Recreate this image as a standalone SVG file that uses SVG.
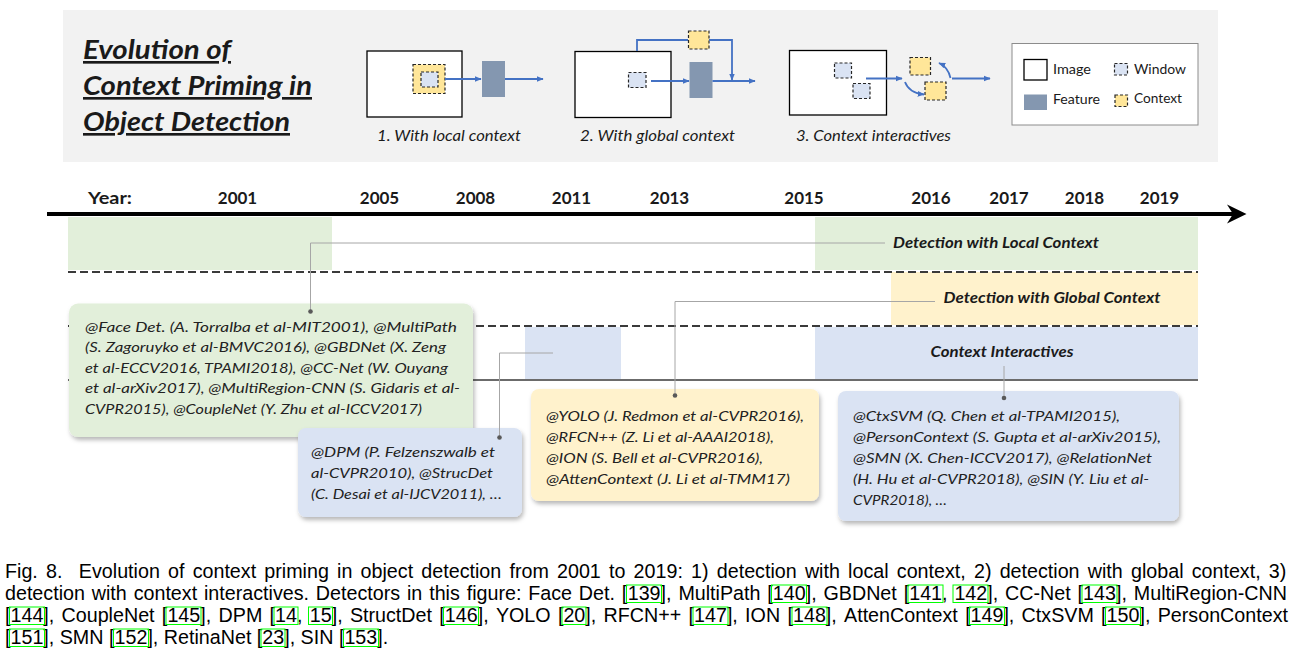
<svg xmlns="http://www.w3.org/2000/svg" width="1295" height="658" viewBox="0 0 1295 658">
<defs>
<style>
.t{font-family:Lato,"Open Sans","Liberation Sans",sans-serif;fill:#1a1a1a}
.title{font-size:26.5px;font-weight:700;font-style:italic;text-decoration:underline}
.cap{font-size:15px;font-style:italic}
.leg{font-size:14px}
.yr{font-size:17px;font-weight:700}
.band{font-size:15px;font-weight:700;font-style:italic}
.bx{font-size:14.3px;font-style:italic;fill:#222}
.fc{font-family:"Liberation Sans",Arial,Helvetica,sans-serif;font-size:19.7px;fill:#000;font-kerning:none;font-variant-ligatures:none}
.w2{word-spacing:1.39px}
.w3{word-spacing:1.82px}
.img{fill:#fff;stroke:#000;stroke-width:1.3}
.win{fill:#dae3f3;stroke:#262626;stroke-width:1.2;stroke-dasharray:3 2}
.ctx{fill:#ffe699;stroke:#262626;stroke-width:1.2;stroke-dasharray:3 2}
.feat{fill:#8497b0}
.arr{fill:none;stroke:#4472c4;stroke-width:1.8;marker-end:url(#ah)}
.ln{fill:none;stroke:#4472c4;stroke-width:1.8}
.dash{stroke:#3a3a3a;stroke-width:2;stroke-dasharray:8 4}
.conn{fill:none;stroke:#a6a6a6;stroke-width:1}
.dot{fill:#595959}
.lk{fill:none;stroke:#00ff00;stroke-width:1}
</style>
<marker id="ah" viewBox="0 0 10 10" refX="9" refY="5" markerWidth="7" markerHeight="7" markerUnits="userSpaceOnUse" orient="auto"><path d="M0,1 L10,5 L0,9 z" fill="#4472c4"/></marker>
<filter id="sh" x="-5%" y="-5%" width="115%" height="125%"><feDropShadow dx="1.5" dy="3" stdDeviation="2" flood-color="#000" flood-opacity="0.28"/></filter>
</defs>
<rect width="1295" height="658" fill="#fff"/>

<g id="header">
<rect x="63" y="10" width="1155" height="152" fill="#f2f2f2"/>
<text class="t title" x="83" y="59" textLength="148" lengthAdjust="spacingAndGlyphs">Evolution of</text>
<text class="t title" x="83" y="95" textLength="229" lengthAdjust="spacingAndGlyphs">Context Priming in</text>
<text class="t title" x="83" y="131" textLength="207" lengthAdjust="spacingAndGlyphs">Object Detection</text>
</g>

<g id="panel1">
<rect class="img" x="367" y="51" width="95" height="66"/>
<rect class="ctx" x="413" y="64.5" width="32" height="29"/>
<rect class="win" x="421" y="72" width="17" height="15"/>
<path class="arr" d="M445,79 L481,79"/>
<rect class="feat" x="482" y="61" width="23" height="36"/>
<path class="arr" d="M505,79 L543,79"/>
<text class="t cap" x="377" y="141" textLength="144" lengthAdjust="spacingAndGlyphs">1. With local context</text>
</g>

<g id="panel2">
<rect class="img" x="575" y="51.5" width="96" height="66"/>
<rect class="win" x="628.5" y="72.5" width="17.5" height="15"/>
<path class="ln" d="M637,51 L637,40 L688,40"/>
<rect class="ctx" x="688.5" y="31" width="20.5" height="18"/>
<path class="arr" d="M709,40 L732,40 L732,80"/>
<path class="arr" d="M651,81 L689,81"/>
<rect class="feat" x="689.5" y="62" width="23" height="36"/>
<path class="arr" d="M712.5,81 L755,81"/>
<text class="t cap" x="580" y="141" textLength="155" lengthAdjust="spacingAndGlyphs">2. With global context</text>
</g>

<g id="panel3">
<rect class="img" x="789.5" y="50.5" width="97" height="64.5"/>
<rect class="win" x="834.5" y="63" width="17" height="15"/>
<rect class="win" x="853" y="83.5" width="17" height="15"/>
<path class="arr" d="M866,78.5 L902,78.5"/>
<rect class="ctx" x="910" y="57.5" width="20.5" height="17.5"/>
<rect class="ctx" x="925" y="82" width="21" height="18"/>
<path class="arr" d="M905,82 Q909,93 924,94.5"/>
<path class="arr" d="M950.5,78 Q948,67 939,63"/>
<path class="arr" d="M952,78.5 L990,78.5"/>
<text class="t cap" x="796" y="141" textLength="155" lengthAdjust="spacingAndGlyphs">3. Context interactives</text>
</g>

<g id="legend">
<rect x="1012" y="43.5" width="186" height="81.5" fill="#fff" stroke="#8c8c8c" stroke-width="1"/>
<rect class="img" x="1024" y="59.5" width="23" height="20.5"/>
<text class="t leg" x="1053" y="74" textLength="38" lengthAdjust="spacingAndGlyphs">Image</text>
<rect class="win" x="1114.5" y="63.5" width="13" height="11.5"/>
<text class="t leg" x="1134" y="73.5" textLength="52" lengthAdjust="spacingAndGlyphs">Window</text>
<rect class="feat" x="1024" y="94.5" width="23" height="15.5"/>
<text class="t leg" x="1053" y="104" textLength="47" lengthAdjust="spacingAndGlyphs">Feature</text>
<rect class="ctx" x="1115" y="95" width="12.5" height="11.5"/>
<text class="t leg" x="1134" y="102.5" textLength="48" lengthAdjust="spacingAndGlyphs">Context</text>
</g>

<g id="timeline">
<text class="t yr" x="88" y="204" textLength="44" lengthAdjust="spacingAndGlyphs">Year:</text>
<g class="t yr" text-anchor="middle">
<text x="237.5" y="204">2001</text>
<text x="379.5" y="204">2005</text>
<text x="475.5" y="204">2008</text>
<text x="571.5" y="204">2011</text>
<text x="669.5" y="204">2013</text>
<text x="804" y="204">2015</text>
<text x="931" y="204">2016</text>
<text x="1009" y="204">2017</text>
<text x="1084.5" y="204">2018</text>
<text x="1159.5" y="204">2019</text>
</g>
<line x1="47" y1="214" x2="1234" y2="214" stroke="#000" stroke-width="4"/>
<path d="M1227,204.5 L1246.5,214 L1227,223.5 L1233,214 z" fill="#000"/>
</g>

<g id="bands">
<rect x="68" y="217" width="264" height="53" fill="#e2efda"/>
<rect x="815" y="217" width="383" height="53" fill="#e2efda"/>
<rect x="891" y="272" width="307" height="53" fill="#fff2cc"/>
<rect x="525" y="327" width="96" height="52" fill="#dae3f3"/>
<rect x="815" y="327" width="383" height="52" fill="#dae3f3"/>
<line class="dash" x1="68" y1="272" x2="1198" y2="272"/>
<line class="dash" x1="68" y1="326" x2="1198" y2="326"/>
<line x1="68" y1="380" x2="1198" y2="380" stroke="#3a3a3a" stroke-width="1.5"/>
<text class="t band" x="996" y="248" text-anchor="middle" textLength="206" lengthAdjust="spacingAndGlyphs">Detection with Local Context</text>
<text class="t band" x="1052" y="302.5" text-anchor="middle" textLength="217" lengthAdjust="spacingAndGlyphs">Detection with Global Context</text>
<text class="t band" x="1002" y="356.5" text-anchor="middle" textLength="143" lengthAdjust="spacingAndGlyphs">Context Interactives</text>
</g>

<g id="box-local">
<rect x="69" y="303.5" width="404" height="133.5" rx="9" fill="#e2efda" filter="url(#sh)"/>
<g class="t bx">
<text x="85" y="331.5" textLength="372" lengthAdjust="spacingAndGlyphs">@Face Det. (A. Torralba et al-MIT2001), @MultiPath</text>
<text x="85" y="352" textLength="361" lengthAdjust="spacingAndGlyphs">(S. Zagoruyko et al-BMVC2016), @GBDNet (X. Zeng</text>
<text x="85" y="372.5" textLength="363" lengthAdjust="spacingAndGlyphs">et al-ECCV2016, TPAMI2018), @CC-Net (W. Ouyang</text>
<text x="85" y="393" textLength="375" lengthAdjust="spacingAndGlyphs">et al-arXiv2017), @MultiRegion-CNN (S. Gidaris et al-</text>
<text x="85" y="413.5" textLength="337" lengthAdjust="spacingAndGlyphs">CVPR2015), @CoupleNet (Y. Zhu et al-ICCV2017)</text>
</g>
</g>

<g id="box-dpm">
<rect x="298" y="428" width="224" height="89" rx="8" fill="#dae3f3" filter="url(#sh)"/>
<g class="t bx">
<text x="311" y="457" textLength="184" lengthAdjust="spacingAndGlyphs">@DPM (P. Felzenszwalb et</text>
<text x="311" y="478" textLength="182" lengthAdjust="spacingAndGlyphs">al-CVPR2010), @StrucDet</text>
<text x="311" y="499" textLength="191" lengthAdjust="spacingAndGlyphs">(C. Desai et al-IJCV2011), …</text>
</g>
</g>

<g id="box-global">
<rect x="531" y="389" width="288" height="112" rx="8" fill="#fff2cc" filter="url(#sh)"/>
<g class="t bx">
<text x="546" y="421" textLength="258" lengthAdjust="spacingAndGlyphs">@YOLO (J. Redmon et al-CVPR2016),</text>
<text x="546" y="442" textLength="228" lengthAdjust="spacingAndGlyphs">@RFCN++ (Z. Li et al-AAAI2018),</text>
<text x="546" y="463" textLength="217" lengthAdjust="spacingAndGlyphs">@ION (S. Bell et al-CVPR2016),</text>
<text x="546" y="484" textLength="244" lengthAdjust="spacingAndGlyphs">@AttenContext (J. Li et al-TMM17)</text>
</g>
</g>

<g id="box-interact">
<rect x="838" y="391" width="341" height="130" rx="8" fill="#dae3f3" filter="url(#sh)"/>
<g class="t bx">
<text x="853" y="421" textLength="267" lengthAdjust="spacingAndGlyphs">@CtxSVM (Q. Chen et al-TPAMI2015),</text>
<text x="853" y="442" textLength="308" lengthAdjust="spacingAndGlyphs">@PersonContext (S. Gupta et al-arXiv2015),</text>
<text x="853" y="463" textLength="299" lengthAdjust="spacingAndGlyphs">@SMN (X. Chen-ICCV2017), @RelationNet</text>
<text x="853" y="484" textLength="296" lengthAdjust="spacingAndGlyphs">(H. Hu et al-CVPR2018), @SIN (Y. Liu et al-</text>
<text x="853" y="505" textLength="94" lengthAdjust="spacingAndGlyphs">CVPR2018), …</text>
</g>
</g>

<g id="connectors">
<path class="conn" d="M885,243 L310.5,243 L310.5,311"/>
<path class="conn" d="M935,301.5 L675,301.5 L675,395"/>
<path class="conn" d="M553,353 L499.5,353 L499.5,437"/>
<path class="conn" d="M1004,366 L1004,398"/>
<circle class="dot" cx="310.5" cy="311.5" r="2.3"/>
<circle class="dot" cx="675" cy="395.5" r="2.3"/>
<circle class="dot" cx="499.5" cy="437.5" r="2.3"/>
<circle class="dot" cx="1004" cy="398" r="2.3"/>
</g>

<g id="caption">
<text class="fc" x="5" y="578" xml:space="preserve" style="word-spacing:2.73px">Fig. 8.  Evolution of context priming in object detection from 2001 to 2019: 1) detection with local context, 2) detection with global context, 3)</text>

<text class="fc w2" x="5" y="600">detection with context interactives. Detectors in this figure: Face Det. [</text>
<text class="fc" x="627.7" y="600">139</text>
<text class="fc w2" x="660.6" y="600">], MultiPath [</text>
<text class="fc" x="772.8" y="600">140</text>
<text class="fc w2" x="805.7" y="600">], GBDNet [</text>
<text class="fc" x="909.2" y="600">141</text>
<text class="fc" x="942" y="600">,</text>
<text class="fc" x="954.4" y="600">142</text>
<text class="fc w2" x="987.3" y="600">], CC-Net [</text>
<text class="fc" x="1083.1" y="600">143</text>
<text class="fc w2" x="1116" y="600">], MultiRegion-CNN</text>

<text class="fc" x="5" y="622">[</text>
<text class="fc" x="10.5" y="622">144</text>
<text class="fc w3" x="43.3" y="622">], CoupleNet [</text>
<text class="fc" x="167.4" y="622">145</text>
<text class="fc w3" x="200.3" y="622">], DPM [</text>
<text class="fc" x="275.1" y="622">14</text>
<text class="fc" x="297" y="622">,</text>
<text class="fc" x="309.8" y="622">15</text>
<text class="fc w3" x="331.7" y="622">], StructDet [</text>
<text class="fc" x="444.8" y="622">146</text>
<text class="fc w3" x="477.7" y="622">], YOLO [</text>
<text class="fc" x="563.4" y="622">20</text>
<text class="fc w3" x="585.3" y="622">], RFCN++ [</text>
<text class="fc" x="694" y="622">147</text>
<text class="fc w3" x="726.9" y="622">], ION [</text>
<text class="fc" x="793" y="622">148</text>
<text class="fc w3" x="825.8" y="622">], AttenContext [</text>
<text class="fc" x="970.5" y="622">149</text>
<text class="fc w3" x="1003.4" y="622">], CtxSVM [</text>
<text class="fc" x="1106.6" y="622">150</text>
<text class="fc w3" x="1139.5" y="622">], PersonContext</text>

<text class="fc" x="5" y="644">[</text>
<text class="fc" x="10.5" y="644">151</text>
<text class="fc" x="43.3" y="644">], SMN [</text>
<text class="fc" x="114.5" y="644">152</text>
<text class="fc" x="147.4" y="644">], RetinaNet [</text>
<text class="fc" x="262.3" y="644">23</text>
<text class="fc" x="284.2" y="644">], SIN [</text>
<text class="fc" x="344.4" y="644">153</text>
<text class="fc" x="377.3" y="644">].</text>

<g class="lk">
<rect x="626.5" y="585" width="35" height="17.5"/>
<rect x="771.5" y="585" width="35" height="17.5"/>
<rect x="908" y="585" width="35" height="17.5"/>
<rect x="953" y="585" width="35" height="17.5"/>
<rect x="1082" y="585" width="35" height="17.5"/>
<rect x="9.5" y="607" width="35" height="17.5"/>
<rect x="166" y="607" width="35" height="17.5"/>
<rect x="274" y="607" width="24" height="17.5"/>
<rect x="308.5" y="607" width="24" height="17.5"/>
<rect x="443.5" y="607" width="35" height="17.5"/>
<rect x="562" y="607" width="24" height="17.5"/>
<rect x="693" y="607" width="35" height="17.5"/>
<rect x="792" y="607" width="35" height="17.5"/>
<rect x="969.5" y="607" width="35" height="17.5"/>
<rect x="1105.5" y="607" width="35" height="17.5"/>
<rect x="9.5" y="629" width="35" height="17.5"/>
<rect x="113.5" y="629" width="35" height="17.5"/>
<rect x="261" y="629" width="24" height="17.5"/>
<rect x="343.5" y="629" width="35" height="17.5"/>
</g>
</g>
</svg>
